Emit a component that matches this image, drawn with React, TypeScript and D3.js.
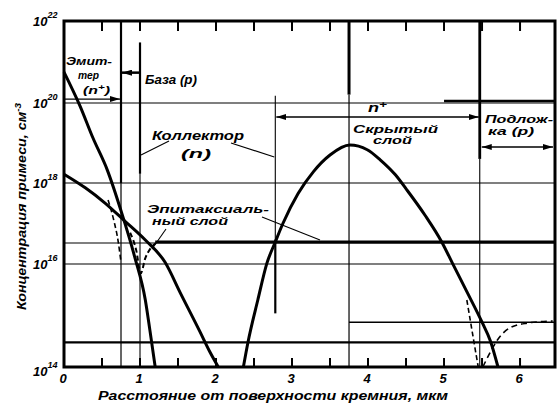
import React from 'react';
import * as d3 from 'd3';

// ---- data (x in µm, concentration in cm^-3) ----
const xTickLabels = [0, 1, 2, 3, 4, 5, 6];
const xTickMarks = [0.5, 1, 1.5, 2, 2.5, 3, 3.5, 4, 4.5, 5, 5.5, 6];
const yTickExponents = [22, 20, 18, 16, 14];

const emitterProfile: [number, number][] = [
  [0, 5.7e20], [0.21, 8.5e19], [0.38, 1.35e19], [0.57, 2.1e18], [0.76, 1.8e17],
  [0.93, 1.5e16], [1.07, 2.0e15], [1.13, 5.2e14], [1.2, 1e14],
];
const baseProfile: [number, number][] = [
  [0, 1.66e18], [0.28, 7.6e17], [0.54, 3.2e17], [0.8, 1.15e17], [1.07, 3.9e16],
  [1.33, 1.1e16], [1.53, 2.75e15], [1.79, 4.8e14], [1.92, 1.95e14], [2.03, 1e14],
];
const buriedProfile: [number, number][] = [
  [2.36, 1e14], [2.42, 3.0e14], [2.55, 2.0e15], [2.67, 1.05e16], [2.78, 3.5e16],
  [2.88, 1.0e17], [3.08, 5.5e17], [3.28, 1.9e18], [3.5, 5.0e18], [3.76, 8.9e18],
  [3.99, 6.8e18], [4.16, 3.8e18], [4.36, 1.6e18], [4.51, 6.8e17], [4.75, 1.6e17],
  [4.97, 3.5e16], [5.11, 1.05e16], [5.3, 2.9e15], [5.5, 7.4e14], [5.61, 3.2e14],
  [5.71, 1e14],
];
const netEmitterBase: [number, number][] = [
  [0.58, 3.8e17], [0.66, 1.1e17], [0.71, 3.9e16], [0.75, 1.1e16],
];
const netBaseCollector: [number, number][] = [
  [0.87, 5.9e16], [0.95, 2.2e16], [1.01, 6.6e15], [1.07, 1.4e16], [1.13, 2.3e16], [1.21, 3.3e16],
];
const netCollectorSubstrateN: [number, number][] = [
  [5.3, 2.0e15], [5.39, 3.3e14], [5.45, 1e14],
];
const netCollectorSubstrateP: [number, number][] = [
  [5.51, 1e14], [5.61, 1.95e14], [5.7, 3.3e14], [5.87, 5.8e14], [6.09, 7.1e14], [6.43, 7.8e14],
];

const epiLevel = 3.3e16;
const substrateLevel = 3.0e14;
const substrateUpperLevel = 7.4e14;
const gridLevels = [1e20, 1e18, 3.3e16, 1e16];

const jEmitterBase = 0.75;
const jBaseCollector = 1.0;
const jEpiBuried = 2.78;
const buriedPeak = 3.75;
const jBuriedSubstrate = 5.47;

// ---- scales ----
const W = 558, H = 405;
const xS = d3.scaleLinear().domain([0, 6.46]).range([64, 555]);
const yLog = d3.scaleLinear().domain([14, 16, 18, 20, 22]).range([367, 264, 183, 103, 21]);
const yS = (v: number) => yLog(Math.log10(v));

const line = d3.line<[number, number]>()
  .x(d => xS(d[0]))
  .y(d => yS(d[1]))
  .curve(d3.curveMonotoneX);

const FONT = "'Liberation Sans', 'DejaVu Sans', sans-serif";
const txt = { fontFamily: FONT, fontStyle: 'italic', fontWeight: 700, fill: '#000' } as const;

function Label({ x, y, w, size = 12, children }: any) {
  return (
    <text x={x} y={y} fontSize={size} textLength={w} lengthAdjust="spacingAndGlyphs" style={txt}>
      {children}
    </text>
  );
}

export default function App() {
  const x0 = xS(0), x1 = xS(6.46);
  const yTop = yS(1e22), yBot = yS(1e14);
  return (
    <svg width={W} height={H} style={{ position: 'absolute', left: 0, top: 0, background: '#fff' }}>
      <defs>
        <marker id="ah" viewBox="0 0 10 6" refX="10" refY="3" markerWidth="10" markerHeight="6"
          markerUnits="userSpaceOnUse" orient="auto-start-reverse">
          <path d="M0,0 L10,3 L0,6 z" fill="#000" />
        </marker>
      </defs>
      <rect width={W} height={H} fill="#fff" />

      {/* horizontal grid lines */}
      {gridLevels.map((g, i) => (
        <line key={i} x1={x0} x2={x1} y1={yS(g)} y2={yS(g)} stroke="#000" strokeWidth={1.2} />
      ))}
      <line x1={xS(5.0)} x2={x1} y1={yS(1e20) - 2} y2={yS(1e20) - 2} stroke="#000" strokeWidth={2.5} />
      <line x1={x0} x2={x1} y1={yS(substrateLevel)} y2={yS(substrateLevel)} stroke="#000" strokeWidth={2.2} />
      <line x1={xS(buriedPeak)} x2={x1} y1={yS(substrateUpperLevel)} y2={yS(substrateUpperLevel)} stroke="#000" strokeWidth={1.5} />

      {/* vertical boundary lines */}
      <line x1={xS(jEmitterBase)} x2={xS(jEmitterBase)} y1={yTop} y2={yS(1e18)} stroke="#000" strokeWidth={2.2} />
      <line x1={xS(jEmitterBase)} x2={xS(jEmitterBase)} y1={yS(1e18)} y2={yBot} stroke="#000" strokeWidth={1.2} />
      <line x1={xS(jBaseCollector)} x2={xS(jBaseCollector)} y1={yS(3e21)} y2={yS(1.7e18)} stroke="#000" strokeWidth={2.2} />
      <line x1={xS(jBaseCollector)} x2={xS(jBaseCollector)} y1={yS(1.7e18)} y2={yBot} stroke="#000" strokeWidth={1.1} />
      <line x1={xS(jEpiBuried)} x2={xS(jEpiBuried)} y1={yS(1.5e20)} y2={yS(4e16)} stroke="#000" strokeWidth={1.1} />
      <line x1={xS(jEpiBuried)} x2={xS(jEpiBuried)} y1={yS(4e16)} y2={yS(1.1e15)} stroke="#000" strokeWidth={2.2} />
      <line x1={xS(buriedPeak)} x2={xS(buriedPeak)} y1={yTop} y2={yS(1.6e20)} stroke="#000" strokeWidth={3} />
      <line x1={xS(buriedPeak)} x2={xS(buriedPeak)} y1={yS(1.6e20)} y2={yBot} stroke="#000" strokeWidth={1.2} />
      <line x1={xS(jBuriedSubstrate)} x2={xS(jBuriedSubstrate)} y1={yTop} y2={yS(4e18)} stroke="#000" strokeWidth={2.8} />
      <line x1={xS(jBuriedSubstrate)} x2={xS(jBuriedSubstrate)} y1={yS(4e18)} y2={yBot} stroke="#000" strokeWidth={1.1} />

      {/* frame */}
      <rect x={x0} y={yTop} width={x1 - x0} height={yBot - yTop} fill="none" stroke="#000" strokeWidth={3} />
      {xTickMarks.map((t, i) => (
        <g key={i}>
          <line x1={xS(t)} x2={xS(t)} y1={yTop} y2={yTop + 10} stroke="#000" strokeWidth={2} />
          <line x1={xS(t)} x2={xS(t)} y1={yBot} y2={yBot - 9} stroke="#000" strokeWidth={2} />
        </g>
      ))}

      {/* epitaxial level */}
      <line x1={xS(1.2)} x2={x1} y1={yS(epiLevel) - 1} y2={yS(epiLevel) - 1} stroke="#000" strokeWidth={3} />

      {/* profiles */}
      <path d={line(emitterProfile)!} fill="none" stroke="#000" strokeWidth={3} />
      <path d={line(baseProfile)!} fill="none" stroke="#000" strokeWidth={3} />
      <path d={line(buriedProfile)!} fill="none" stroke="#000" strokeWidth={3} />
      <path d={line(netEmitterBase)!} fill="none" stroke="#000" strokeWidth={1.6} strokeDasharray="5,3" />
      <path d={line(netBaseCollector)!} fill="none" stroke="#000" strokeWidth={2} strokeDasharray="5,3" />
      <path d={line(netCollectorSubstrateN)!} fill="none" stroke="#000" strokeWidth={1.6} strokeDasharray="5,3" />
      <path d={line(netCollectorSubstrateP)!} fill="none" stroke="#000" strokeWidth={1.6} strokeDasharray="6,4" />

      {/* arrows */}
      <line x1={x0} x2={xS(jEmitterBase) - 1} y1={yS(1.25e20)} y2={yS(1.25e20)} stroke="#000" strokeWidth={1.2} markerEnd="url(#ah)" />
      <line x1={xS(jBaseCollector)} x2={xS(jEmitterBase) + 1} y1={yS(5.5e20)} y2={yS(5.5e20)} stroke="#000" strokeWidth={2.5} markerEnd="url(#ah)" />
      <line x1={xS(jEpiBuried) + 1} x2={xS(jBuriedSubstrate) - 1} y1={117} y2={117} stroke="#000" strokeWidth={1.4} markerStart="url(#ah)" markerEnd="url(#ah)" />
      <line x1={xS(jBuriedSubstrate) + 2} x2={x1 - 2} y1={147} y2={147} stroke="#000" strokeWidth={1.4} markerStart="url(#ah)" markerEnd="url(#ah)" />

      {/* leader lines */}
      <line x1={169} y1={141} x2={xS(jBaseCollector) + 1} y2={155} stroke="#000" strokeWidth={1.1} />
      <line x1={231} y1={143} x2={xS(jEpiBuried) - 1} y2={157} stroke="#000" strokeWidth={1.1} />
      <line x1={166} y1={229} x2={152} y2={249} stroke="#000" strokeWidth={1.1} />
      <line x1={262} y1={217} x2={320} y2={240} stroke="#000" strokeWidth={1.1} />

      {/* annotations */}
      <Label x={66} y={65} w={46} size={11}>Эмит-</Label>
      <Label x={78} y={79} w={21} size={11}>тер</Label>
      <Label x={83} y={94} w={27} size={11}>(n<tspan fontSize={8} dy={-4}>+</tspan><tspan dy={4}>)</tspan></Label>
      <Label x={145} y={84} w={52}>База (p)</Label>
      <Label x={152} y={140} w={92}>Коллектор</Label>
      <Label x={181} y={158} w={30}>(n)</Label>
      <Label x={147} y={213} w={122} size={11}>Эпитаксиаль-</Label>
      <Label x={152} y={225} w={76} size={11}>ный слой</Label>
      <Label x={368} y={112} w={19}>n<tspan fontSize={9} dy={-4}>+</tspan></Label>
      <Label x={353} y={133} w={85} size={11}>Скрытый</Label>
      <Label x={373} y={144} w={39} size={11}>слой</Label>
      <Label x={485} y={123} w={68} size={11}>Подлож-</Label>
      <Label x={488} y={135} w={46} size={11}>ка (p)</Label>

      {/* y tick labels */}
      {yTickExponents.map(e => (
        <text key={e} x={33} y={yLog(e) + (e === 14 ? 9 : 5)} fontSize={13} style={txt}>
          10<tspan fontSize={9} dy={-8}>{e}</tspan>
        </text>
      ))}
      {/* x tick labels */}
      {xTickLabels.map(t => (
        <text key={t} x={xS(t) - 1} y={383} fontSize={13} textAnchor="middle" style={txt}>{t}</text>
      ))}

      {/* axis titles */}
      <text x={98} y={400} fontSize={13} textLength={350} lengthAdjust="spacingAndGlyphs" style={txt}>
        Расстояние от поверхности кремния, мкм
      </text>
      <text transform="translate(26,310) rotate(-90)" fontSize={13} textLength={207} lengthAdjust="spacingAndGlyphs" style={txt}>
        Концентрация примеси, см<tspan fontSize={9} dy={-5}>-3</tspan>
      </text>
    </svg>
  );
}
